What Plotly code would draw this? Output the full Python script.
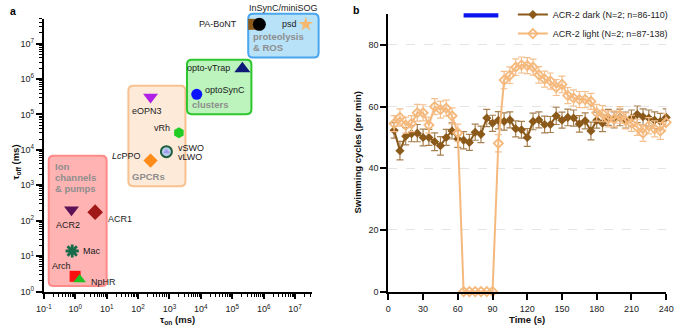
import numpy as np
import plotly.graph_objects as go

W, H = 682, 329
FONT = "Liberation Sans, Arial, sans-serif"

# ---------------- Panel a data ----------------
names = ["ACR2", "ACR1", "Mac", "Arch", "NpHR", "LcPPO", "vSWO/vLWO", "vRh",
         "eOPN3", "optoSynC", "opto-vTrap", "PA-BoNT", "InSynC/miniSOG", "psd"]
tau_on = [0.76, 4.3, 0.8, 0.99, 1.38, 250, 800, 2000, 250, 7400, 2.1e5, 4.8e5, 7.3e5, 2.2e7]
tau_off = [204, 175, 14, 2.7, 2.2, 5000, 8900, 30500, 3.1e5, 3.7e5, 1.94e6, 3.5e7, 3.5e7, 3.5e7]
symbols = ["triangle-down", "diamond", "asterisk-open", "square", "triangle-up", "diamond",
           "circle", "hexagon", "triangle-down", "circle", "triangle-up", "square", "circle", "star"]
colors = ["#5b1257", "#a01818", "#176b4a", "#ff1010", "#22c022", "#ff8c1a",
          "#b9cbea", "#22cc22", "#b020e6", "#0a14ff", "#0f1a78", "#8b5a1b", "#000000", "#f5b86e"]
sizes = [13, 12, 11, 11, 11, 11, 11, 11, 13, 11, 14, 11, 13, 11]

# label text, anchor, xshift, yshift (px, relative to point)
labels = [
    ("ACR2", "center", -3, -15), ("ACR1", "left", 11, -7), ("Mac", "left", 9, 0),
    ("Arch", "center", -14, 10), ("NpHR", "left", 9, -3), ("<i>Lc</i>PPO", "right", -8, 5),
    ("vSWO", "left", 10, 4), ("vRh", "right", -7, 5), ("eOPN3", "center", -4, -14),
    ("optoSynC", "left", 6, 4), ("opto-vTrap", "right", -10, 1), ("PA-BoNT", "right", -15, 0),
    ("InSynC/miniSOG", "left", -12, 16), ("psd", "right", -7, 0),
]

# category boxes (log10 extents): x0, x1, y0, y1
box_names = ["ion", "gpcr", "clusters", "proteo"]
box_x = [(-0.845, 1.0), (1.693, 3.509), (3.558, 5.61), (5.508, 7.75)]
box_y = [(0.156, 3.835), (2.976, 5.81), (5.007, 6.544), (6.607, 7.84)]
box_fill = ["#ffb3b3", "#fdead9", "#bdf3bd", "#b8e2f8"]
box_line = ["#ff8a8a", "#f7c28f", "#2fc72f", "#4aa6ee"]

# ---------------- Panel b data ----------------
t = list(range(5, 241, 5))
dark = [52.3, 45.7, 50.4, 51.2, 51.4, 50.0, 50.0, 48.6, 47.3, 50.0, 52.1, 49.5,
        49.1, 48.4, 51.7, 51.0, 56.3, 54.6, 55.6, 55.2, 55.7, 52.8, 52.5, 50.0,
        55.2, 55.7, 54.2, 54.2, 57.0, 55.6, 56.5, 56.3, 54.4, 55.4, 52.1, 55.6,
        54.6, 56.5, 55.7, 56.5, 55.6, 56.3, 57.5, 56.7, 56.3, 55.6, 55.2, 56.5]
dark_err = [2.5, 3.0, 2.8, 2.6, 2.8, 2.7, 2.6, 2.9, 3.0, 2.6, 2.6, 2.7,
            2.8, 2.6, 2.6, 2.7, 2.8, 2.6, 2.8, 2.8, 2.6, 2.6, 2.7, 2.9,
            2.7, 2.6, 2.7, 2.6, 2.8, 2.6, 2.7, 2.6, 2.7, 2.6, 2.9, 2.6,
            2.7, 2.6, 2.6, 2.7, 2.6, 2.6, 2.7, 2.6, 2.6, 2.7, 2.6, 2.8]
light = [54.5, 56.5, 54.0, 54.5, 58.0, 58.0, 54.0, 60.0, 59.0, 59.5, 57.0, 51.5,
         0, 0, 0, 0, 0, 0, 48.1, 68.6, 70.2, 72.8, 73.5, 73.3,
         72.8, 70.3, 68.9, 68.3, 66.2, 67.2, 63.6, 62.8, 62.3, 62.3, 61.7, 58.0,
         57.7, 56.0, 56.0, 57.3, 55.4, 54.6, 53.3, 51.4, 53.8, 52.8, 52.1, 54.9]
light_err = [2.6, 2.8, 2.6, 2.6, 2.7, 2.6, 2.6, 2.6, 2.7, 2.6, 2.6, 2.8,
             0, 0, 0, 0, 0, 0, 2.8, 2.8, 2.7, 2.7, 2.6, 2.6,
             2.6, 2.7, 2.6, 2.6, 2.6, 2.7, 2.6, 2.6, 2.6, 2.6, 2.6, 2.7,
             2.6, 2.6, 2.6, 2.7, 2.6, 2.6, 2.6, 2.7, 2.6, 2.6, 2.7, 2.8]
light_on = (65, 95)
xticks_b = list(range(0, 241, 30))
yticks_b = [0, 20, 40, 60, 80]

# ---------------- geometry ----------------
xa_range = [-1, 7.53]
ya_range = [0, 7.7]
xa_dom = [36.7 / W, 311 / W]
ya_dom = [1 - 295.7 / H, 1 - 15.2 / H]
xb_range = [0, 240]
yb_range = [0, 90]
xb_dom = [389.5 / W, 674 / W]
yb_dom = [1 - 295.7 / H, 1 - 10.4 / H]


def a_to_paper(lx, ly):
    px = xa_dom[0] + (lx - xa_range[0]) / (xa_range[1] - xa_range[0]) * (xa_dom[1] - xa_dom[0])
    py = ya_dom[0] + (ly - ya_range[0]) / (ya_range[1] - ya_range[0]) * (ya_dom[1] - ya_dom[0])
    return px, py


def b_to_paper(x, y):
    px = xb_dom[0] + (x - xb_range[0]) / (xb_range[1] - xb_range[0]) * (xb_dom[1] - xb_dom[0])
    py = yb_dom[0] + (y - yb_range[0]) / (yb_range[1] - yb_range[0]) * (yb_dom[1] - yb_dom[0])
    return px, py


fig = go.Figure()

# ---------------- Panel a traces ----------------
for i in range(len(names)):
    mk = dict(symbol=symbols[i], size=sizes[i], color=colors[i], line=dict(width=0))
    if symbols[i] == "asterisk-open":
        mk = dict(symbol="asterisk-open", size=sizes[i], color=colors[i],
                  line=dict(width=2.8, color=colors[i]))
    if names[i] == "vSWO/vLWO":
        mk = dict(symbol="circle", size=sizes[i], color=colors[i],
                  line=dict(width=2, color="#1d5e3c"))
    fig.add_trace(go.Scatter(x=[tau_on[i]], y=[tau_off[i]], mode="markers", marker=mk,
                             xaxis="x", yaxis="y", showlegend=False, cliponaxis=False,
                             hoverinfo="skip"))
    if names[i] == "vSWO/vLWO":
        fig.add_trace(go.Scatter(x=[tau_on[i]], y=[tau_off[i]], mode="markers",
                                 marker=dict(symbol="triangle-up", size=6, color="#9c9cf2"),
                                 xaxis="x", yaxis="y", showlegend=False, cliponaxis=False,
                                 hoverinfo="skip"))

annotations = []
lab_font = dict(family=FONT, size=9, color="#1a1a1a")
for i, (txt, anc, xs, ys) in enumerate(labels):
    annotations.append(dict(x=np.log10(tau_on[i]), y=np.log10(tau_off[i]), xref="x", yref="y",
                            text=txt, showarrow=False, xanchor=anc, yanchor="middle",
                            xshift=xs, yshift=ys, font=lab_font))
# vLWO second line
annotations.append(dict(x=np.log10(tau_on[6]), y=np.log10(tau_off[6]), xref="x", yref="y",
                        text="vLWO", showarrow=False, xanchor="left", yanchor="middle",
                        xshift=10, yshift=-5, font=lab_font))

# boxes
shapes = []
r = 5.0
for k in range(len(box_names)):
    x0, y0 = a_to_paper(box_x[k][0], box_y[k][0])
    x1, y1 = a_to_paper(box_x[k][1], box_y[k][1])
    rx, ry = r / W, r / H
    path = (f"M{x0+rx},{y0} L{x1-rx},{y0} Q{x1},{y0} {x1},{y0+ry} L{x1},{y1-ry} "
            f"Q{x1},{y1} {x1-rx},{y1} L{x0+rx},{y1} Q{x0},{y1} {x0},{y1-ry} "
            f"L{x0},{y0+ry} Q{x0},{y0} {x0+rx},{y0} Z")
    shapes.append(dict(type="path", path=path, xref="paper", yref="paper",
                       fillcolor=box_fill[k], line=dict(color=box_line[k], width=2),
                       layer="below"))

box_font = dict(family=FONT, size=9.5, color="#8e8e8e")
box_texts = [
    (0, "top", ["Ion", "channels", "&amp; pumps"], 4, -3, 11),
    (1, "bottom", ["GPCRs"], 2, 2, 0),
    (2, "bottom", ["clusters"], 3, 2, 0),
    (3, "bottom", ["&amp; ROS", "proteolysis"], 3, 3, 10.5),
]
for k, corner, lines, xs, ys, step in box_texts:
    if corner == "top":
        px, py = a_to_paper(box_x[k][0], box_y[k][1])
        for j, line in enumerate(lines):
            annotations.append(dict(x=px, y=py, xref="paper", yref="paper", text=f"<b>{line}</b>",
                                    showarrow=False, xanchor="left", yanchor="top",
                                    xshift=xs, yshift=ys - j * step, font=box_font))
    else:
        px, py = a_to_paper(box_x[k][0], box_y[k][0])
        for j, line in enumerate(lines):
            annotations.append(dict(x=px, y=py, xref="paper", yref="paper", text=f"<b>{line}</b>",
                                    showarrow=False, xanchor="left", yanchor="bottom",
                                    xshift=xs, yshift=ys + j * step, font=box_font))

# ---------------- Panel b traces ----------------
c_dark = "#8b5a1b"
c_light = "#f5b97d"
fig.add_trace(go.Scatter(
    x=t, y=dark, mode="lines+markers", name="ACR-2 dark (N=2; n=86-110)",
    line=dict(color=c_dark, width=2),
    marker=dict(symbol="diamond", size=7, color=c_dark),
    error_y=dict(type="data", array=dark_err, visible=True, color="#a88050", thickness=1.2, width=3.5),
    xaxis="x2", yaxis="y2", cliponaxis=False))
fig.add_trace(go.Scatter(
    x=t, y=light, mode="lines+markers", name="ACR-2 light (N=2; n=87-138)",
    line=dict(color=c_light, width=2),
    marker=dict(symbol="diamond-open", size=7, color=c_light, line=dict(width=1.8, color=c_light)),
    error_y=dict(type="data", array=light_err, visible=True, color="#f5c08e", thickness=1.2, width=3.5),
    xaxis="x2", yaxis="y2", cliponaxis=False))

# light-on bar
bx0, by0 = b_to_paper(light_on[0], 88.9)
bx1, by1 = b_to_paper(light_on[1], 90.3)
shapes.append(dict(type="rect", xref="paper", yref="paper", x0=bx0, x1=bx1, y0=by0, y1=by1,
                   fillcolor="#0a14ee", line=dict(width=0)))

# axis titles and panel labels
title_font = dict(family=FONT, size=9.5, color="#111")
annotations += [
    dict(x=(xa_dom[0] + xa_dom[1]) / 2, y=1 - 324.5 / H, xref="paper", yref="paper",
         xanchor="center", yanchor="middle",
         text="<b>τ<sub>on</sub> (ms)</b>", showarrow=False, font=title_font),
    dict(x=7.5 / W, y=1 - 163 / H, xref="paper", yref="paper", textangle=-90,
         xanchor="center", yanchor="middle",
         text="<b>τ<sub>off</sub> (ms)</b>", showarrow=False, font=title_font),
    dict(x=(xb_dom[0] + xb_dom[1]) / 2, y=1 - 324.5 / H, xref="paper", yref="paper",
         xanchor="center", yanchor="middle",
         text="<b>Time (s)</b>", showarrow=False, font=title_font),
    dict(x=358 / W, y=(yb_dom[0] + yb_dom[1]) / 2, xref="paper", yref="paper", textangle=-90,
         xanchor="center", yanchor="middle",
         text="<b>Swimming cycles (per min)</b>", showarrow=False, font=title_font),
    dict(x=5 / W, y=1 - 7 / H, xref="paper", yref="paper", text="<b>a</b>", showarrow=False,
         xanchor="center", yanchor="middle",
         font=dict(family=FONT, size=10.5, color="#000")),
    dict(x=356 / W, y=1 - 6 / H, xref="paper", yref="paper", text="<b>b</b>", showarrow=False,
         xanchor="center", yanchor="middle",
         font=dict(family=FONT, size=10.5, color="#000")),
]

# log ticks
decades_x = list(range(-1, 8))
decades_y = list(range(0, 8))
minor_x = [m * 10.0 ** d for d in range(-1, 8) for m in range(2, 10) if np.log10(m * 10.0 ** d) <= xa_range[1]]
minor_y = [m * 10.0 ** d for d in range(0, 8) for m in range(2, 10) if np.log10(m * 10.0 ** d) <= ya_range[1]]

tick_font = dict(family=FONT, size=9, color="#222")
axis_common = dict(showline=True, linecolor="#000", linewidth=2, ticks="outside", tickcolor="#000",
                   tickwidth=1.5, zeroline=False, tickfont=tick_font, showgrid=False)

fig.update_layout(
    width=W, height=H, margin=dict(l=0, r=0, t=0, b=0),
    paper_bgcolor="white", plot_bgcolor="rgba(0,0,0,0)",
    font=dict(family=FONT),
    xaxis=dict(type="log", range=xa_range, domain=xa_dom, anchor="y", ticklen=5,
               ticklabelstandoff=3,
               tickvals=[10.0 ** d for d in decades_x],
               ticktext=[f"10<sup>{d}</sup>" for d in decades_x],
               minor=dict(tickmode="array", tickvals=minor_x, ticks="outside", ticklen=3,
                          tickwidth=1, tickcolor="#000", showgrid=False),
               **axis_common),
    yaxis=dict(type="log", range=ya_range, domain=ya_dom, anchor="x", ticklen=6,
               tickvals=[10.0 ** d for d in decades_y],
               ticktext=[f"10<sup>{d}</sup>" for d in decades_y],
               minor=dict(tickmode="array", tickvals=minor_y, ticks="outside", ticklen=3,
                          tickwidth=1, tickcolor="#000", showgrid=False),
               **axis_common),
    xaxis2=dict(range=xb_range, domain=xb_dom, anchor="y2", ticklen=6, tickvals=xticks_b,
                ticklabelstandoff=2,
                **axis_common),
    yaxis2=dict(range=yb_range, domain=yb_dom, anchor="x2", ticklen=6, tickvals=yticks_b,
                **{**axis_common, "showgrid": True}, gridcolor="#e4e4e4", griddash="dash",
                gridwidth=1),
    legend=dict(x=517 / W, y=1 + 4 / H, xanchor="left", yanchor="top",
                font=dict(family=FONT, size=9, color="#222"), bgcolor="rgba(0,0,0,0)",
                itemwidth=30),
    shapes=shapes, annotations=annotations,
)

fig.write_html("out.html")
